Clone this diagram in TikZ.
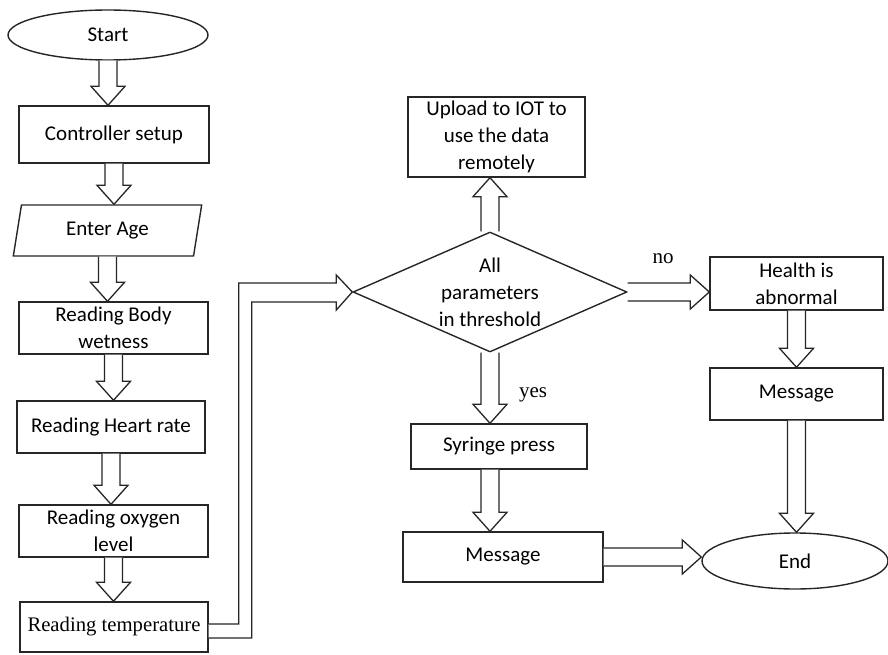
\documentclass[tikz,border=0pt]{standalone}
\usepackage{fontspec}
\setmainfont{Carlito}
\newfontfamily\timesfont{Liberation Serif}
\usetikzlibrary{shapes.geometric,calc}

% hollow block arrow from #1 to #2
\newcommand\fatarrow[2]{%
\coordinate (fh) at ($(#2)!19pt!(#1)$);
\filldraw[fat] ($(#1)!9pt!90:(#2)$) -- ($(fh)!9pt!90:(#2)$) -- ($(fh)!17pt!90:(#2)$) -- (#2) -- ($(fh)!17pt!-90:(#2)$) -- ($(fh)!9pt!-90:(#2)$) -- ($(#1)!9pt!-90:(#2)$);}

\tikzset{
  box/.style={draw=black!85, line width=1.4pt, rectangle, align=center, inner sep=2pt, font=\fontsize{21}{27}\selectfont},
  fat/.style={draw=black!85, fill=white, line width=1.3pt, line join=miter},
  lbl/.style={font=\timesfont\fontsize{21}{25}\selectfont}
}

\begin{document}
\begin{tikzpicture}[x=1pt, y=-1pt]
\useasboundingbox (0,0) rectangle (888,655);
\node[box, ellipse, minimum width=200, minimum height=50] (start) at (108,35) {Start};
\node[box, minimum width=190, minimum height=57] (ctrl) at (114,134.5) {Controller setup};
\node[box, trapezium, trapezium left angle=79, trapezium right angle=101, trapezium stretches=true, minimum width=189, minimum height=51] (age) at (107.5,230.5) {Enter Age};
\node[box, minimum width=189, minimum height=52] (body) at (113.5,328) {Reading Body\\wetness};
\node[box, minimum width=188, minimum height=52] (heart) at (111,427) {Reading Heart rate};
\node[box, minimum width=189, minimum height=52] (oxy) at (113.5,531) {Reading oxygen\\level};
\node[box, minimum width=188, minimum height=50, font=\timesfont\fontsize{20.7}{25}\selectfont] (temp) at (114,627) {Reading temperature};

\node[box, diamond, aspect=2.28, inner sep=0pt, minimum width=274, minimum height=120] (dia) at (490,292) {All\\parameters\\in threshold};
\node[box, minimum width=177, minimum height=80] (upload) at (496.5,137) {Upload to IOT to\\use the data\\remotely};
\node[box, minimum width=176, minimum height=45] (syr) at (499,446.5) {Syringe press};
\node[box, minimum width=200, minimum height=50] (msgl) at (503,557) {Message};
\node[box, minimum width=173, minimum height=53] (health) at (796.5,283.5) {Health is\\abnormal};
\node[box, minimum width=173, minimum height=52] (msgr) at (796.5,394) {Message};
\node[box, ellipse, minimum width=186, minimum height=56] (end) at (795,561) {End};

\node[lbl] (no) at (663,259) {no};
\node[lbl] (yes) at (533,395) {yes};

\fatarrow{start.south}{start.south |- ctrl.north}
\fatarrow{ctrl.south}{ctrl.south |- age.north}
\fatarrow{age.south}{age.south |- body.north}
\fatarrow{body.south}{body.south |- heart.north}
\fatarrow{heart.south}{heart.south |- oxy.north}
\fatarrow{oxy.south}{oxy.south |- temp.north}
\filldraw[fat] ($(temp.east)+(0,-3)$) -- ++(30,0) |- ($(dia.west)+(-16,-9)$) -- ++(0,-8) -- (dia.west) -- ++(-16,18) -- ++(0,-8) -| ($(temp.east)+(43,11)$) -- ($(temp.east)+(0,11)$);

\fatarrow{dia.north}{dia.north |- upload.south}
\fatarrow{dia.east}{dia.east -| health.west}
\fatarrow{dia.south}{dia.south |- syr.north}
\fatarrow{dia.south |- syr.south}{dia.south |- msgl.north}
\fatarrow{msgl.east}{msgl.east -| end.west}
\fatarrow{health.south}{health.south |- msgr.north}
\fatarrow{msgr.south}{msgr.south |- end.north}
\end{tikzpicture}
\end{document}
